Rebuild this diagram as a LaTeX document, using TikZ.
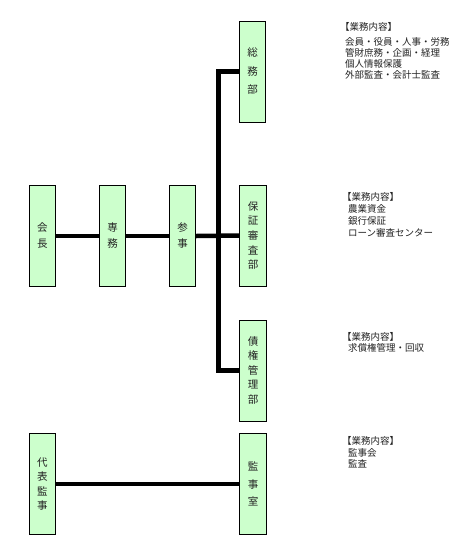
\documentclass[tikz,border=0pt]{standalone}
\usepackage{fontspec}
\newfontfamily\cjk{Noto Sans CJK JP}
\definecolor{boxfill}{HTML}{CCFFCC}
\definecolor{txt}{HTML}{222222}
\tikzset{
  orgbox/.style={draw=black, line width=0.8pt, fill=boxfill, minimum width=26.5pt,
    minimum height=101pt, inner sep=0pt, align=center, text=txt,
    font=\cjk\fontsize{10.5}{#1}\selectfont},
  orgbox/.default=16,
  conn/.style={line width=4.5pt, line join=miter, line cap=butt},
  dutytext/.style={anchor=north west, inner sep=0pt, align=left, text=txt,
    font=\cjk\fontsize{9.5}{#1}\selectfont},
  dutytext/.default=11.5
}
\begin{document}
\begin{tikzpicture}[x=1pt,y=1pt]
\useasboundingbox[fill=white] (0,0) rectangle (475,-542);
% boxes
\node[orgbox=16] (kaicho) at (42.5,-236) {会\\長};
\node[orgbox=16] (senmu) at (112.5,-236) {専\\務};
\node[orgbox=16] (sanji) at (182.5,-236) {参\\事};
\node[orgbox=18.5] (somu) at (252.5,-71.5) {総\\務\\部};
\node[orgbox=14.7] (hosho) at (253,-235.5) {保\\証\\審\\査\\部};
\node[orgbox=14.5] (saiken) at (253,-370.5) {債\\権\\管\\理\\部};
\node[orgbox=14.5] (daihyo) at (42.5,-484) {代\\表\\監\\事};
\node[orgbox=17.5] (kanjishitsu) at (253,-484) {監\\事\\室};
% connectors
\coordinate (trunk) at (218.5,-236);
\draw[conn] (kaicho.east) -- (senmu.west);
\draw[conn] (senmu.east) -- (sanji.west);
\draw[conn] (sanji.east) -- (hosho.west);
\draw[conn] (somu.west) -| (trunk) |- (saiken.west);
\draw[conn] (daihyo.east) -- (kanjishitsu.west);
% duty texts
\node[dutytext=11] (d1) at (340,-22) {【業務内容】\\[4pt]\hspace*{5pt}会員・役員・人事・労務\\\hspace*{5pt}管財庶務・企画・経理\\\hspace*{5pt}個人情報保護\\\hspace*{5pt}外部監査・会計士監査};
\node[dutytext=12] (d2) at (342,-192) {【業務内容】\\\hspace*{6pt}農業資金\\\hspace*{6pt}銀行保証\\\hspace*{6pt}ローン審査センター};
\node[dutytext=11.5] (d3) at (342,-332) {【業務内容】\\\hspace*{6pt}求償権管理・回収};
\node[dutytext=11.5] (d4) at (342,-436.5) {【業務内容】\\\hspace*{6pt}監事会\\\hspace*{6pt}監査};
\end{tikzpicture}
\end{document}
